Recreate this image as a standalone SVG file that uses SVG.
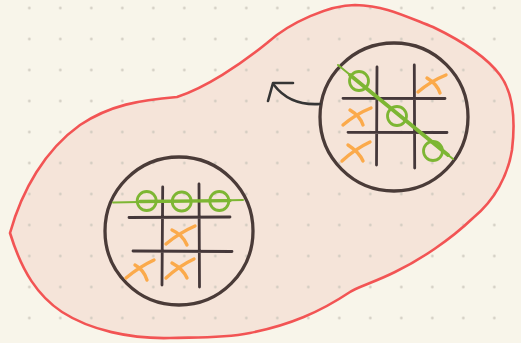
<svg xmlns="http://www.w3.org/2000/svg" width="521" height="343" viewBox="0 0 521 343">
  <defs>
    <pattern id="dots" patternUnits="userSpaceOnUse" x="13.8" y="-7.5" width="31" height="31">
      <circle cx="15.5" cy="15.5" r="1.3" fill="#cdc8bd"/>
    </pattern>
    <style>
      .ring { fill: none; stroke: #4a3b38; stroke-width: 3.3; }
      .grid { fill: none; stroke: #45383a; stroke-width: 2.8; stroke-linecap: round; }
      .o { fill: none; stroke: #7db633; stroke-width: 2.8; }
      .win { fill: none; stroke: #7db633; stroke-linecap: round; }
      .x { fill: none; stroke: #fbaa4b; stroke-width: 3.4; stroke-linecap: round; }
      .link { fill: none; stroke: #353535; stroke-width: 2.6; stroke-linecap: round; stroke-linejoin: round; }
    </style>
  </defs>

  <!-- paper -->
  <rect width="521" height="343" fill="#f8f5ea"/>

  <!-- region containing both boards -->
  <g id="region">
    <path id="region-fill" d="M10,233 C22,190 45,150 80,125 C110,105 140,100 177,97 C205,88 240,65 267,43 C290,22 330,5 355,5 C385,6 400,14 433,27 C460,40 485,55 500,75 C515,95 515,125 512,150 C508,175 495,200 473,218 C450,240 420,260 395,272 C375,282 355,288 350,292 C320,312 290,325 250,333 C220,339 190,337 170,338 C130,339 90,330 62,312 C38,296 22,272 10,233 Z" fill="#f5e4d9"/>
  </g>

  <!-- dotted grid over the paper -->
  <rect width="521" height="343" fill="url(#dots)"/>

  <path d="M10,233 C22,190 45,150 80,125 C110,105 140,100 177,97 C205,88 240,65 267,43 C290,22 330,5 355,5 C385,6 400,14 433,27 C460,40 485,55 500,75 C515,95 515,125 512,150 C508,175 495,200 473,218 C450,240 420,260 395,272 C375,282 355,288 350,292 C320,312 290,325 250,333 C220,339 190,337 170,338 C130,339 90,330 62,312 C38,296 22,272 10,233 Z" fill="none" stroke="#f25454" stroke-width="2.6" stroke-linejoin="round"/>

  <!-- board with a winning row -->
  <g id="board-row">
    <circle class="ring" cx="179" cy="231" r="74"/>
    <path class="grid" d="M162.7,187 L162,285 M199,184 L199.5,287 M129,217.5 L230,217 M133,251 L232,251.5"/>
    <path class="win" stroke-width="2" d="M113,202.5 L243,200"/>
    <path class="win" stroke-width="3.4" d="M140,201.5 L230,200.6"/>
    <circle class="o" cx="146.7" cy="201" r="9.5"/>
    <circle class="o" cx="181.7" cy="201.5" r="9.5"/>
    <circle class="o" cx="219.3" cy="201" r="9.5"/>
    <path class="x" d="M166,244 Q179,233 195,226 M172,230 Q183,235 187,245"/>
    <path class="x" d="M126,278 Q139,267 154,260 M135,265 Q144,270 147,280"/>
    <path class="x" d="M166,278 Q179,266 194,259 M172,263 Q183,269 187,278"/>
  </g>

  <!-- board with a winning diagonal -->
  <g id="board-diagonal">
    <circle class="ring" cx="394" cy="117" r="74"/>
    <path class="grid" d="M377,67 L376.5,165 M414.3,65 L414.7,168 M343,98.3 L445,98.5 M348,132.3 L447,132.5"/>
    <path class="win" stroke-width="2" d="M338,65 L453,159"/>
    <path class="win" stroke-width="3.8" d="M350,75 L448,155"/>
    <circle class="o" cx="359" cy="81" r="9.5"/>
    <circle class="o" cx="397" cy="116" r="9.5"/>
    <circle class="o" cx="433" cy="151" r="9.5"/>
    <path class="x" d="M418,92 Q431,81 446,75 M427,78 Q437,84 440,93"/>
    <path class="x" d="M343,125 Q356,114 371,108 M350,110 Q360,116 363,125"/>
    <path class="x" d="M342,161 Q355,149 370,142 M348,145 Q359,152 363,161"/>
  </g>

  <!-- connectors -->
  <g id="connectors">
    <path class="link" d="M320,104 Q290,106 274,85"/>
    <path class="link" d="M268,101 L273,83 L293,83"/>
  </g>
</svg>
